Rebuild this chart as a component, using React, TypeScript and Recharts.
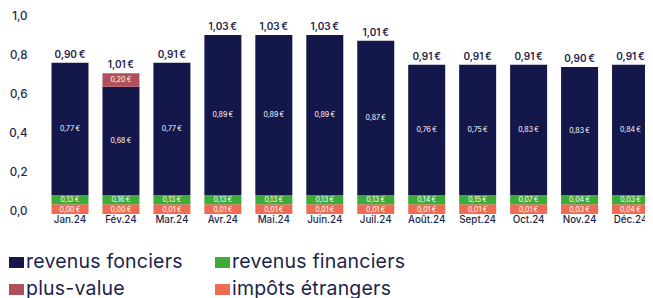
import React from 'react';
import { BarChart, Bar, XAxis, YAxis, LabelList, Legend } from 'recharts';

// Categories
const months = ['Jan.24', 'Fév.24', 'Mar.24', 'Avr.24', 'Mai.24', 'Juin.24', 'Juil.24', 'Août.24', 'Sept.24', 'Oct.24', 'Nov.24', 'Déc.24'];

// Printed values (labels, €)
const totalLabels = [0.9, 1.01, 0.91, 1.03, 1.03, 1.03, 1.01, 0.91, 0.91, 0.91, 0.9, 0.91];
const fonciersLabels = [0.77, 0.68, 0.77, 0.89, 0.89, 0.89, 0.87, 0.76, 0.75, 0.83, 0.83, 0.84];
const financiersLabels = [0.13, 0.16, 0.13, 0.13, 0.13, 0.13, 0.13, 0.14, 0.15, 0.07, 0.04, 0.03];
const impotsLabels = [0.0, 0.0, 0.01, 0.01, 0.01, 0.01, 0.01, 0.01, 0.01, 0.01, 0.03, 0.04];
const plusValueLabels = [null, 0.2, null, null, null, null, null, null, null, null, null, null];

// Segment heights as read against the y axis
const fonciersHeights = [0.678, 0.555, 0.678, 0.82, 0.82, 0.82, 0.79, 0.667, 0.667, 0.667, 0.656, 0.667];
const financiersHeights = [0.048, 0.048, 0.048, 0.048, 0.048, 0.048, 0.048, 0.048, 0.048, 0.048, 0.048, 0.048];
const impotsHeights = [0.05, 0.05, 0.05, 0.05, 0.05, 0.05, 0.05, 0.05, 0.05, 0.05, 0.05, 0.05];
const plusValueHeights = [0, 0.069, 0, 0, 0, 0, 0, 0, 0, 0, 0, 0];

// Y axis ticks
const yTicks = [0, 0.2, 0.4, 0.6, 0.8, 1.0];

const NAVY = '#14174a';
const GREEN = '#3dab37';
const MAROON = '#b0505a';
const ORANGE = '#ef6b54';
const TEXT = '#1c1f4d';
const FONT = 'Inter, "Open Sans", sans-serif';

const data = months.map((m, i) => ({
  month: m,
  fonciers: fonciersHeights[i],
  financiers: financiersHeights[i],
  impots: impotsHeights[i],
  plusValue: plusValueHeights[i],
  fonciersLabel: fonciersLabels[i],
  financiersLabel: financiersLabels[i],
  impotsLabel: impotsLabels[i],
  plusValueLabel: plusValueLabels[i],
  totalOnFonciers: plusValueLabels[i] === null ? totalLabels[i] : null,
  totalOnPlusValue: plusValueLabels[i] === null ? null : totalLabels[i],
}));

const euro = (v: any) => (v === null || v === undefined ? '' : Number(v).toFixed(2).replace('.', ',') + '\u2009€');

const legendItems = [
  { name: 'revenus fonciers', color: NAVY },
  { name: 'revenus financiers', color: GREEN },
  { name: 'plus-value', color: MAROON },
  { name: 'impôts étrangers', color: ORANGE },
];

const LegendContent = () => (
  <div style={{ display: 'grid', gridTemplateColumns: '206px 260px', fontFamily: FONT }}>
    {legendItems.map((it) => (
      <div key={it.name} style={{ display: 'flex', alignItems: 'center', height: 27 }}>
        <span style={{ display: 'inline-block', width: 15, height: 11, background: it.color, marginLeft: 9, marginRight: 2, marginTop: 2 }} />
        <span style={{ fontSize: 19.5, color: TEXT, lineHeight: '27px', letterSpacing: 0.2 }}>{it.name}</span>
      </div>
    ))}
  </div>
);

const YTick = (props: any) => {
  const { x, y, payload } = props;
  return (
    <text x={x} y={y} dy={1} textAnchor="end" fill={TEXT} fontSize={11.5} fontFamily={FONT} fontWeight={500}>
      {Number(payload.value).toFixed(1).replace('.', ',')}
    </text>
  );
};

export default function App() {
  return (
    <div style={{ marginLeft: -8, marginTop: -8, width: 653, height: 298, overflow: 'hidden', position: 'relative', fontFamily: FONT }}>
      <BarChart width={656} height={298} data={data} margin={{ top: 19, right: 0, left: 0, bottom: 64 }} barCategoryGap={0} barSize={37}>
        <XAxis
          dataKey="month"
          height={20}
          axisLine={false}
          tickLine={false}
          tickSize={0}
          tickMargin={2}
          interval={0}
          tick={{ fill: TEXT, fontSize: 9.8, fontFamily: FONT, fontWeight: 500 }}
        />
        <YAxis
          width={44.5}
          domain={[0, 1]}
          ticks={yTicks}
          axisLine={false}
          tickLine={false}
          tickSize={0}
          tickMargin={17}
          tick={<YTick />}
          interval={0}
        />
        <Legend
          layout="horizontal"
          verticalAlign="middle"
          align="center"
          content={<LegendContent />}
          wrapperStyle={{ top: 248, left: 0, width: 500 }}
        />
        <Bar dataKey="impots" stackId="a" fill={ORANGE} isAnimationActive={false}>
          <LabelList dataKey="impotsLabel" position="center" formatter={euro} fill="#ffffff" fontSize={7} fontFamily={FONT} />
        </Bar>
        <Bar dataKey="financiers" stackId="a" fill={GREEN} isAnimationActive={false}>
          <LabelList dataKey="financiersLabel" position="center" formatter={euro} fill="#ffffff" fontSize={7} fontFamily={FONT} />
        </Bar>
        <Bar dataKey="fonciers" stackId="a" fill={NAVY} isAnimationActive={false}>
          <LabelList dataKey="fonciersLabel" position="center" formatter={euro} fill="#ffffff" fontSize={7} fontFamily={FONT} />
          <LabelList dataKey="totalOnFonciers" position="top" offset={5} formatter={euro} fill={TEXT} fontSize={10} fontWeight={600} fontFamily={FONT} />
        </Bar>
        <Bar dataKey="plusValue" stackId="a" fill={MAROON} isAnimationActive={false}>
          <LabelList dataKey="plusValueLabel" position="center" formatter={euro} fill="#ffffff" fontSize={7} fontFamily={FONT} />
          <LabelList dataKey="totalOnPlusValue" position="top" offset={5} formatter={euro} fill={TEXT} fontSize={10} fontWeight={600} fontFamily={FONT} />
        </Bar>
      </BarChart>
    </div>
  );
}
